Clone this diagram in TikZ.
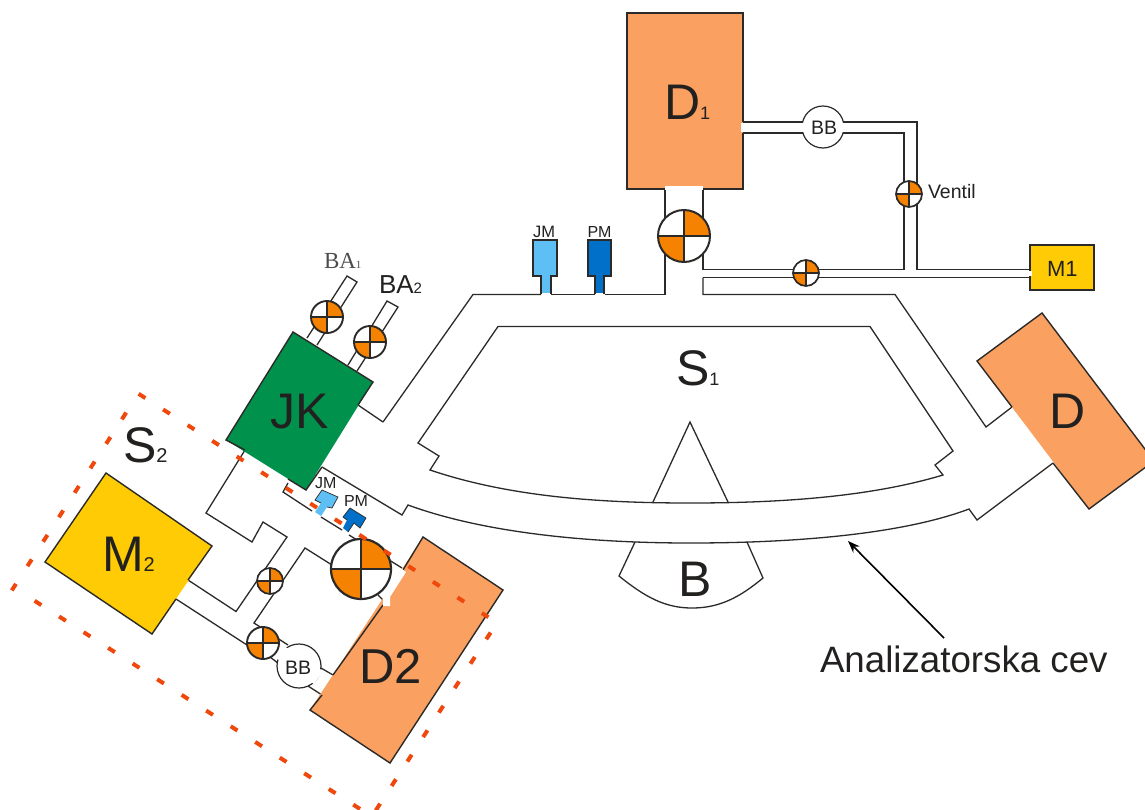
\documentclass[tikz,border=0pt]{standalone}
\usepackage{fontspec}
\setmainfont{Liberation Sans}
\newfontfamily\serifba{Liberation Serif}
\usetikzlibrary{arrows.meta}
\definecolor{ink}{HTML}{2B2A28}
\definecolor{txt}{HTML}{222120}
\definecolor{dipole}{HTML}{FAA061}
\definecolor{yel}{HTML}{FFCB05}
\definecolor{grn}{HTML}{00914C}
\definecolor{valv}{HTML}{F58200}
\definecolor{jmc}{HTML}{5EBFF5}
\definecolor{pmc}{HTML}{0070C8}
\definecolor{redd}{HTML}{F0480C}
\newcommand{\fs}[1]{\fontsize{#1}{#1}\selectfont}
\newcommand{\myvalve}[4]{% x, y, r, line width
  \begin{scope}[shift={(#1,#2)}]
    \fill[white] (0,0) circle[radius=#3];
    \fill[valv] (0,0) -- (#3,0) arc[start angle=0,end angle=-90,radius=#3] -- cycle;
    \fill[valv] (0,0) -- (-#3,0) arc[start angle=180,end angle=90,radius=#3] -- cycle;
    \draw[ink,line width=#4*0.75] (-#3,0) -- (#3,0) (0,-#3) -- (0,#3);
    \draw[ink,line width=#4] (0,0) circle[radius=#3];
  \end{scope}}
\tikzset{
  pipe/.style={draw=ink,line width=1.3pt,line join=miter},
  edgeline/.style={draw=ink,line width=1.4pt},
  lbl/.style={inner sep=0pt,outer sep=0pt,text=txt,anchor=base west},
  border/.style={draw=redd,line width=4pt,dash pattern=on 8pt off 21.1pt},
}
\begin{document}
\begin{tikzpicture}[x=1pt,y=-1pt]
\useasboundingbox (0,0) rectangle (1145,809);
\clip (0,0) rectangle (1145,809);
\fill[white] (0,0) rectangle (1145,809);

% --- analyser tube ---
\draw[pipe] (383,422) -- (473,294.5) -- (541,294.5);
\draw[pipe] (551,294.5) -- (595,294.5);
\draw[pipe] (605,294.5) -- (665,294.5) -- (665,189);
\draw[pipe] (703,189) -- (703,269.5) -- (904,269.5) -- (904,133) -- (743,133);
\draw[pipe] (743,122) -- (917,122) -- (917,269.5) -- (1030,269.5);
\draw[pipe] (703,277.5) -- (1030,277.5);
\draw[pipe] (703,277.5) -- (703,294.5) -- (895,294.5) -- (986,427) -- (1012,407);
\draw[pipe] (358,405) -- (383,422);
\draw[pipe] (322,467) -- (402,515) -- (408,505)
  .. controls (490,535) and (600,543) .. (690,543)
  .. controls (790,543) and (900,535) .. (969,509)
  -- (977,520) -- (1053,463);
% S1 chamber
\draw[pipe] (498,326.5) -- (870,326.5) -- (953,451) -- (935,465) -- (943,475)
  .. controls (870,497) and (780,503) .. (690,503)
  .. controls (600,503) and (510,497) .. (430,470)
  -- (439,456) -- (418,443) -- cycle;
\draw[pipe] (653,502) -- (690,422) -- (728,502);
% B
\draw[pipe] (635,542) -- (619,576) .. controls (645,597) and (665,608) .. (692,608)
  .. controls (720,608) and (740,597) .. (763,578) -- (747,542);

% --- second stage pipes ---
\draw[pipe] (245,450) -- (206,513) -- (252,542) -- (263,522) -- (287,537) -- (236,611.5) -- (188,580);
\draw[pipe] (176,599) -- (247,645);
\draw[pipe] (288,483) -- (283,492) -- (312,511);
\draw[pipe] (321,517) -- (342,530);
\draw[pipe] (349,535) -- (402,568);
\draw[pipe] (332,565) -- (305,548) -- (254,623) -- (288,645);
\draw[pipe] (270,657) -- (308,686) -- (322,695);
\draw[pipe] (321,668) -- (333,675);
\draw[pipe] (378,595) -- (383,600);
% BA pipes
\draw[pipe] (307,338) -- (347,276) -- (357,282) -- (317,345);
\draw[pipe] (348,365) -- (387,301) -- (398,307) -- (357,371);

% --- magnets and boxes ---
\fill[dipole] (627,13) rectangle (743,189);
\draw[edgeline] (665,189) -- (627,189) -- (627,13) -- (743,13) -- (743,122);
\draw[edgeline] (743,133) -- (743,189) -- (703,189);
\fill[white] (665,186) rectangle (703,190);
\fill[white] (741,123) rectangle (746,132);

\fill[yel] (1030,245) rectangle (1094,290);
\draw[edgeline] (1030,245) rectangle (1094,290);
\fill[white] (1029,271) rectangle (1032,276);

\fill[dipole] (1042,313) -- (1154,461) -- (1089,509) -- (977,361) -- cycle;
\draw[edgeline] (1012,407) -- (977,361) -- (1042,313) -- (1154,461) -- (1089,509) -- (1053,463);

\fill[grn] (293,332) -- (373,382) -- (306,490) -- (226,440) -- cycle;
\draw[edgeline] (358,405) -- (373,382) -- (293,332) -- (226,440) -- (245,450);
\draw[edgeline] (322,467) -- (306,490) -- (288,479);

\fill[yel] (106,473) -- (212,546) -- (152,634) -- (45,562) -- cycle;
\draw[edgeline] (188,580) -- (212,546) -- (106,473) -- (45,562) -- (152,634) -- (176,599);

\fill[dipole] (423,537) -- (503,590) -- (390,763) -- (310,710) -- cycle;
\draw[edgeline] (403,570) -- (423,537) -- (503,590) -- (390,763) -- (310,710) -- (322,695);
\draw[edgeline] (333,675) -- (383,605);
\fill[white] (402,569) -- (406,572) -- (390,597) -- (390,606) -- (383,606) -- (383,597) -- cycle;

% --- pressure gauges ---
\fill[jmc] (533,240) rectangle (557,276);
\fill[jmc] (541,276) rectangle (551,293);
\draw[ink,line width=1.3pt] (541,294) -- (541,276) -- (533,276) -- (533,240) -- (557,240) -- (557,276) -- (551,276) -- (551,294);
\fill[pmc] (588,240) rectangle (611,276);
\fill[pmc] (595,276) rectangle (604,293);
\draw[ink,line width=1.3pt] (595,294) -- (595,276) -- (588,276) -- (588,240) -- (611,240) -- (611,276) -- (604,276) -- (604,294);
\fill[jmc] (322,490) -- (338,497) -- (332,508) -- (327,507) -- (321,516) -- (315,512) -- (321,503) -- (315,500) -- cycle;
\draw[ink,line width=0.7pt] (321,503) -- (315,500) -- (322,490) -- (338,497) -- (332,508) -- (327,507);
\fill[pmc] (350,508) -- (366,518) -- (360,528) -- (354,523) -- (348,532) -- (343,528) -- (347,520) -- (343,517) -- cycle;
\draw[ink,line width=0.7pt] (347,520) -- (343,517) -- (350,508) -- (366,518) -- (360,528) -- (354,523) -- (348,532);

% --- BB chambers ---
\draw[ink,line width=1.2pt,fill=white] (823,127) circle[radius=21];
\fill[white] (800,123) rectangle (846,132);
\draw[ink,line width=1.2pt,fill=white] (299,666) circle[radius=22];
\fill[white] (284,646) -- (276,658) -- (314,684) -- (323,671) -- cycle;

% --- valves ---
\myvalve{684}{236}{26}{2pt}
\myvalve{806}{273}{13}{1.7pt}
\myvalve{909}{194}{13}{1.7pt}
\myvalve{327}{317}{16}{1.9pt}
\myvalve{370}{342}{16}{1.9pt}
\myvalve{361}{569}{30}{2.2pt}
\myvalve{270}{581}{13}{1.7pt}
\myvalve{263}{643}{16}{1.9pt}

% --- labels ---
\node[lbl] (d1) at (664,119) {\fs{50}D\fs{18}1};
\node[lbl] (s1) at (676,385) {\fs{50}S\fs{18}1};
\node[lbl] (s2) at (123,462) {\fs{50}S\fs{20}2};
\node[lbl] (m2) at (102,571) {\fs{50}M\fs{20}2};
\node[lbl] (jk) at (270,428) {\fs{50}JK};
\node[lbl] (dd) at (1049,428) {\fs{50}D};
\node[lbl] (dz) at (359,683) {\fs{49}D2};
\node[lbl] (bb) at (678,596) {\fs{50}B};
\node[lbl] (ba1) at (324,268) {\serifba\color{black!70}\fs{23}BA\fs{11}1};
\node[lbl] (ba2) at (379,293) {\fs{26}BA\fs{15}2};
\node[lbl] (m1) at (1047,276) {\fs{22}M1};
\node[lbl] (vent) at (928,198) {\fs{19.5}Ventil};
\node[lbl] (bbt) at (811,134) {\fs{19.5}BB};
\node[lbl] (bbl) at (285,674) {\fs{19.5}BB};
\node[lbl] (jmt) at (533,237) {\fs{16.5}JM};
\node[lbl] (pmt) at (587.5,237) {\fs{16}PM};
\node[lbl] (jml) at (315,488) {\fs{16}JM};
\node[lbl] (pml) at (344,506) {\fs{16}PM};
\node[lbl] (ana) at (820,672) {\fs{36.7}Analizatorska cev};

% --- arrow ---
\coordinate (arrS) at (944,638);
\coordinate (arrT) at (848,541);
\draw[black,line width=1.6pt,-{Stealth[length=12pt,width=9pt]}] (arrS) -- (arrT);

% --- dashed system boundary ---
\draw[border] (138.6,393.8) -- (488.4,617.2);
\draw[border] (126.2,412.6) -- (11.8,590.4);
\draw[border] (34.6,600.8) -- (360.4,809.2);
\draw[border] (375.8,810.4) -- (491.2,631.6);
\end{tikzpicture}
\end{document}
